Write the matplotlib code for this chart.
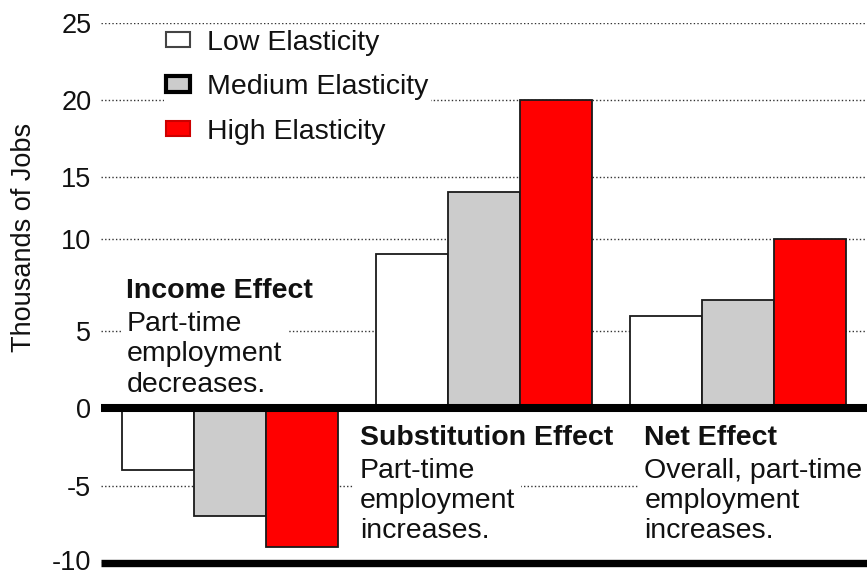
import matplotlib
matplotlib.use("Agg")
import matplotlib.pyplot as plt
import matplotlib.transforms as mtransforms
from matplotlib.patches import Patch
import numpy as np

plt.rcParams['font.family'] = ['Liberation Sans', 'DejaVu Sans']

# ---- data ----
groups = ["Income Effect", "Substitution Effect", "Net Effect"]
series = ["Low Elasticity", "Medium Elasticity", "High Elasticity"]
low_vals = [-4, 10, 6]
medium_vals = [-7, 14, 7]
high_vals = [-9, 20, 11]
ytick_pos = [-10, -5, 0, 5, 11, 15, 20, 25]
ytick_labels = ["-10", "-5", "0", "5", "10", "15", "20", "25"]
titles = ["Income Effect", "Substitution Effect", "Net Effect"]
bodies = ["Part-time\nemployment\ndecreases.",
          "Part-time\nemployment\nincreases.",
          "Overall, part-time\nemployment\nincreases."]

colors = ["#ffffff", "#cccccc", "#ff0000"]

W, H = 867, 574
fig = plt.figure(figsize=(W / 100, H / 100), dpi=100)
ax_l, ax_r, ax_t, ax_b = 101, 867, 22.7, 562.7
ax = fig.add_axes([ax_l / W, 1 - ax_b / H, (ax_r - ax_l) / W, (ax_b - ax_t) / H])

x = np.arange(len(groups))
w = 0.2843
for i, (vals, c) in enumerate(zip([low_vals, medium_vals, high_vals], colors)):
    ax.bar(x + (i - 1) * w, vals, width=w, color=c, edgecolor="#1a1a1a",
           linewidth=1.3, zorder=3)

ax.set_xlim(-0.5079, 2.5079)
ax.set_ylim(-10, 25)
ax.set_yticks(ytick_pos)
ax.set_yticklabels(ytick_labels, fontsize=19.5, color="#111111")
ax.set_xticks([])
ax.tick_params(axis="y", length=0, pad=7)
for s in ax.spines.values():
    s.set_visible(False)
ax.yaxis.grid(True, linestyle=(0, (1, 1.6)), color="#333333", linewidth=1.0, zorder=0)
ax.set_axisbelow(True)

# keep the bottom tick label inside the canvas
bottom_lbl = ax.get_yticklabels()[0]
bottom_lbl.set_transform(bottom_lbl.get_transform() +
                         mtransforms.ScaledTranslation(0, 3 / 100, fig.dpi_scale_trans))

ax.axhline(0, color="black", linewidth=5.8, solid_capstyle="butt", zorder=6)
ax.axhline(-10, color="black", linewidth=5.3, solid_capstyle="butt", zorder=6,
           clip_on=False)

# annotations (positions in pixels converted to data coords)
def px2data(px, py):
    inv = ax.transData.inverted()
    return inv.transform((px, H - py))

title_pos = [(126.5, 298.3), (360, 445), (644.5, 445)]
# baseline of the last body line
body_pos = [(126.5, 391.5), (360, 538.3), (644.5, 538.3)]
fig.canvas.draw()
for t, b, tp, bp in zip(titles, bodies, title_pos, body_pos):
    bx, by = px2data(*bp)
    ax.text(bx, by, b, fontsize=20.5, color="#111111", ha="left", va="baseline",
            linespacing=1.21, zorder=5,
            bbox=dict(facecolor="white", edgecolor="none", boxstyle="square,pad=0.2"))
    tx, ty = px2data(*tp)
    ax.text(tx, ty, t, fontsize=20.5, fontweight="bold", color="#111111",
            ha="left", va="baseline", zorder=5)

# legend
handles = [
    Patch(facecolor="#ffffff", edgecolor="#444444", linewidth=1.5),
    Patch(facecolor="#cccccc", edgecolor="#000000", linewidth=3.0),
    Patch(facecolor="#ff0000", edgecolor="#cc0000", linewidth=1.5),
]
leg = ax.legend(handles, series, loc="upper left",
                bbox_to_anchor=((164 - ax_l) / (ax_r - ax_l), (ax_b - 27.5) / (ax_b - ax_t)),
                borderaxespad=0, fontsize=20.5, frameon=True, fancybox=False,
                facecolor="white", edgecolor="none", framealpha=1,
                handlelength=0.84, handleheight=0.46, handletextpad=0.6,
                labelspacing=0.65, borderpad=0.08)
for txt in leg.get_texts():
    txt.set_color("#111111")
leg.set_zorder(7)

fig.text(24 / W, 1 - 237 / H, "Thousands of Jobs", rotation=90, fontsize=19.5,
         ha="center", va="center", color="#111111")

fig.savefig("out.png", dpi=100)
